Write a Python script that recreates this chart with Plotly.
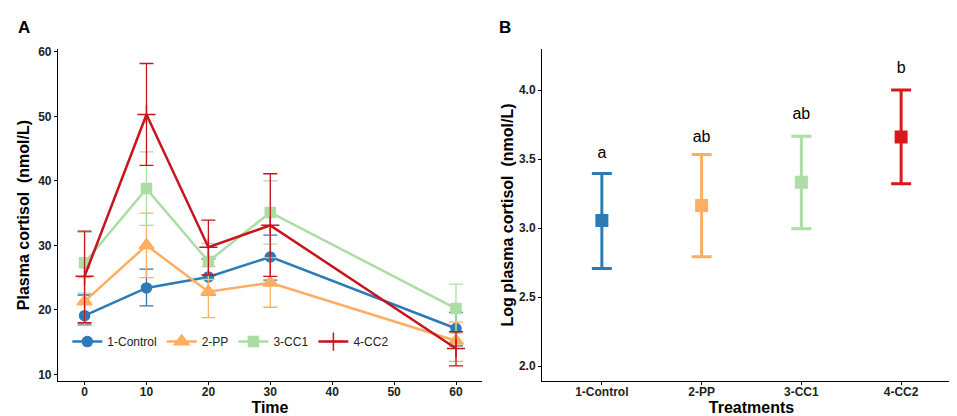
import plotly.graph_objects as go
from plotly.subplots import make_subplots

# Panel A: plasma cortisol over time
tiempo = [0, 10, 20, 30, 60]
grupos = ["1-Control", "2-PP", "3-CC1", "4-CC2"]

media = {
    "1-Control": [19.1, 23.4, 25.1, 28.2, 17.1],
    "2-PP": [21.3, 30.0, 22.8, 24.2, 15.2],
    "3-CC1": [27.3, 38.8, 27.5, 35.1, 20.2],
    "4-CC2": [25.2, 50.3, 29.7, 33.1, 14.0],
}
sup = {
    "1-Control": [22.3, 26.3, 27.9, 31.6, 19.6],
    "2-PP": [25.0, 35.0, 26.7, 28.1, 18.1],
    "3-CC1": [32.0, 44.5, 30.3, 40.0, 24.0],
    "4-CC2": [32.2, 58.2, 33.9, 41.1, 16.6],
}
inf = {
    "1-Control": [17.8, 20.6, 22.3, 24.6, 14.4],
    "2-PP": [17.6, 25.0, 18.8, 20.4, 12.0],
    "3-CC1": [22.6, 33.1, 24.7, 30.2, 16.4],
    "4-CC2": [18.0, 42.4, 25.4, 25.2, 11.3],
}

# Panel B: log plasma cortisol by treatment
log_media = [3.056, 3.164, 3.333, 3.661]
log_sup = [3.395, 3.534, 3.666, 4.0]
log_inf = [2.707, 2.793, 2.996, 3.321]
letras = ["a", "ab", "ab", "b"]
letras_y = [3.54, 3.656, 3.821, 4.155]

colores = ["#2c7bb6", "#fdae61", "#abdda4", "#c8141c"]
colores_b = ["#2c7bb6", "#fdae61", "#abdda4", "#d7191c"]
simbolos = ["circle", "triangle-up", "square", "cross-thin"]
tamanos = [10, 13, 10, 13]

fig = make_subplots(rows=1, cols=2, horizontal_spacing=0.06)

for i, g in enumerate(grupos):
    m = media[g]
    fig.add_trace(go.Scatter(
        x=tiempo, y=m, name=g, mode="lines+markers",
        line=dict(color=colores[i], width=2.5),
        marker=dict(symbol=simbolos[i], size=tamanos[i], color=colores[i],
                    line=dict(color=colores[i], width=1.5)),
        error_y=dict(type="data", symmetric=False,
                     array=[s - v for s, v in zip(sup[g], m)],
                     arrayminus=[v - s for s, v in zip(inf[g], m)],
                     color=colores[i], thickness=1.3, width=7),
    ), row=1, col=1)

for i, g in enumerate(grupos):
    fig.add_trace(go.Scatter(
        x=[g], y=[log_media[i]], mode="markers", showlegend=False,
        marker=dict(symbol="square", size=13, color=colores_b[i]),
        error_y=dict(type="data", symmetric=False,
                     array=[log_sup[i] - log_media[i]],
                     arrayminus=[log_media[i] - log_inf[i]],
                     color=colores_b[i], thickness=3, width=10),
    ), row=1, col=2)

fig.add_trace(go.Scatter(
    x=grupos, y=letras_y, text=letras, mode="text", showlegend=False,
    textfont=dict(size=16, color="black", family="Liberation Sans"),
), row=1, col=2)

eje = dict(showline=True, linecolor="black", linewidth=1, ticks="outside",
           ticklen=3, tickcolor="black", showgrid=False, zeroline=False,
           tickfont=dict(size=12, color="#222", family="Liberation Sans", weight="bold"),
           title_font=dict(size=16, color="black", family="Liberation Sans", weight="bold"))

fig.update_xaxes(eje)
fig.update_yaxes(eje)
fig.update_xaxes(ticklabelstandoff=-4)
fig.update_xaxes(domain=[0.0522, 0.4953], range=[-4.3, 64.2], tickvals=[0, 10, 20, 30, 40, 50, 60],
                 title_text="Time", title_standoff=0, row=1, col=1)
fig.update_yaxes(domain=[0.1034, 0.911], range=[8.9, 60.5], tickvals=[10, 20, 30, 40, 50, 60],
                 title_text="Plasma cortisol  (nmol/L)", title_standoff=4, row=1, col=1)
fig.update_xaxes(domain=[0.558, 0.9958], range=[-0.6, 3.6],
                 title_text="Treatments", title_standoff=0, row=1, col=2)
fig.update_yaxes(domain=[0.1034, 0.911], range=[1.89, 4.3], tickvals=[2.0, 2.5, 3.0, 3.5, 4.0],
                 tickformat=".1f", title_text="Log plasma cortisol  (nmol/L)",
                 title_standoff=1, row=1, col=2)

fig.add_annotation(text="<b>A</b>", x=8 / 957, y=1 - 4 / 416, xref="paper", yref="paper",
                   xanchor="left", yanchor="top", showarrow=False,
                   font=dict(size=17, color="black", family="Liberation Sans"))
fig.add_annotation(text="<b>B</b>", x=489 / 957, y=1 - 4 / 416, xref="paper", yref="paper",
                   xanchor="left", yanchor="top", showarrow=False,
                   font=dict(size=17, color="black", family="Liberation Sans"))

fig.update_layout(
    width=957, height=416, margin=dict(l=0, r=0, t=0, b=0),
    plot_bgcolor="white", paper_bgcolor="white",
    font=dict(family="Liberation Sans", color="black"),
    legend=dict(orientation="h", x=0.062, y=0.2, xanchor="left", yanchor="middle",
                bgcolor="rgba(0,0,0,0)", font=dict(size=12, color="#222"),
                itemwidth=30, tracegroupgap=0),
)

fig.write_html("out.html")
